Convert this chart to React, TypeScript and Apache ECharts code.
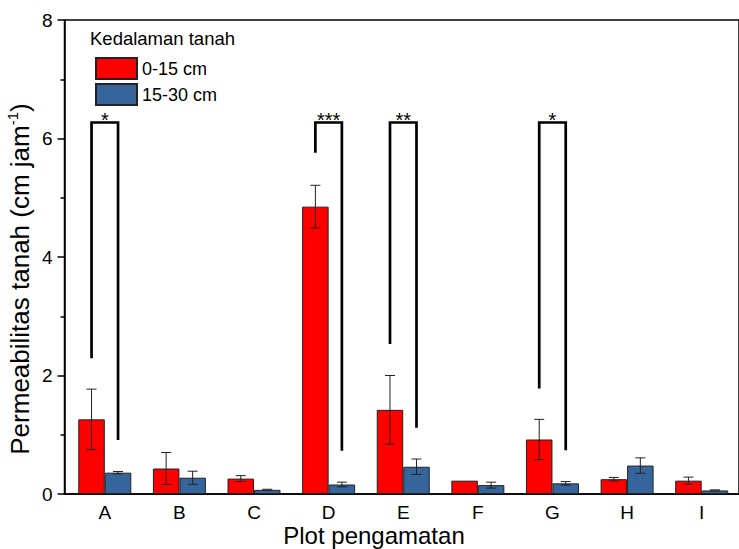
import React, { useEffect, useRef } from "react";
import * as echarts from "echarts";

const categories = ["A", "B", "C", "D", "E", "F", "G", "H", "I"];
const seriesNames = ["0-15 cm", "15-30 cm"];
const depth0_15 = [1.26, 0.43, 0.26, 4.85, 1.42, 0.225, 0.92, 0.25, 0.225];
const err0_15 = [0.51, 0.27, 0.05, 0.36, 0.58, 0, 0.34, 0.03, 0.06];
const depth15_30 = [0.36, 0.275, 0.07, 0.16, 0.46, 0.15, 0.18, 0.48, 0.06];
const err15_30 = [0.02, 0.11, 0.01, 0.04, 0.13, 0.05, 0.03, 0.13, 0.01];
const yTicks = [0, 2, 4, 6, 8];

const sigCategories = ["A", "D", "E", "G"];
const sigLabels = ["*", "***", "**", "*"];
const sigLeftBottom = [2.29, 5.76, 2.53, 1.78];
const sigRightBottom = [0.91, 0.73, 1.12, 0.74];
const sigTop = [6.27, 6.27, 6.27, 6.27];

const FONT = "Liberation Sans, Arial, sans-serif";
const RED = "#ff0000";
const BLUE = "#36659c";
const HALF = 13.25;

export default function App() {
  const ref = useRef<HTMLDivElement>(null);
  useEffect(() => {
    if (!ref.current) return;
    document.body.style.margin = "0";
    const chart = echarts.init(ref.current, null, { renderer: "svg" });

    const errSeries = (means: number[], errs: number[], offset: number) => ({
      type: "custom",
      silent: true,
      z: 5,
      data: means.map((m, i) => [i + 1, m, errs[i]]),
      renderItem: (params: any, api: any) => {
        const x = api.value(0);
        const m = api.value(1);
        const e = api.value(2);
        if (!e) return null;
        const top = api.coord([x, m + e]);
        const bot = api.coord([x, m - e]);
        const px = top[0] + offset;
        const st = { stroke: "#222", lineWidth: 1 };
        return {
          type: "group",
          children: [
            { type: "line", shape: { x1: px, y1: top[1], x2: px, y2: bot[1] }, style: st },
            { type: "line", shape: { x1: px - 5, y1: top[1], x2: px + 5, y2: top[1] }, style: st },
            { type: "line", shape: { x1: px - 5, y1: bot[1], x2: px + 5, y2: bot[1] }, style: st },
          ],
        };
      },
    });

    const option: any = {
      animation: false,
      grid: {
        left: 64.5,
        right: -3.5,
        top: 20,
        bottom: 55,
        show: true,
        borderColor: "#000",
        borderWidth: 1.5,
      },
      legend: {
        data: seriesNames,
        orient: "vertical",
        left: 90,
        top: 52,
        itemWidth: 41,
        itemHeight: 21,
        itemGap: 3,
        icon: "rect",
        textStyle: { fontSize: 18, color: "#000", fontFamily: FONT },
      },
      xAxis: {
        type: "value",
        min: 0.46,
        max: 9.5,
        splitLine: { show: false },
        axisTick: { show: false },
        axisLine: { lineStyle: { color: "#000", width: 1.5 } },
        axisLabel: {
          customValues: categories.map((_, i) => i + 1),
          formatter: (v: number) => categories[Math.round(v) - 1] || "",
          fontSize: 19,
          color: "#000",
          fontFamily: FONT,
          margin: 9,
        },
      },
      yAxis: {
        type: "value",
        min: yTicks[0],
        max: yTicks[yTicks.length - 1],
        interval: 2,
        splitLine: { show: false },
        axisLine: { show: true, lineStyle: { color: "#000", width: 1.5 } },
        axisTick: { show: true, length: 7, lineStyle: { color: "#000", width: 1.5 } },
        minorTick: { show: true, splitNumber: 2, length: 4, lineStyle: { color: "#000", width: 1.5 } },
        axisLabel: { fontSize: 19, color: "#000", fontFamily: FONT, margin: 12 },
      },
      series: [
        {
          name: seriesNames[0],
          type: "bar",
          barWidth: 26.5,
          barGap: "0%",
          itemStyle: { color: RED, borderColor: "#222", borderWidth: 1 },
          data: depth0_15.map((v, i) => [i + 1, v]),
        },
        {
          name: seriesNames[1],
          type: "bar",
          barWidth: 26.5,
          barGap: "0%",
          itemStyle: { color: BLUE, borderColor: "#222", borderWidth: 1 },
          data: depth15_30.map((v, i) => [i + 1, v]),
        },
        errSeries(depth0_15, err0_15, -HALF),
        errSeries(depth15_30, err15_30, HALF),
        {
          type: "custom",
          silent: true,
          z: 6,
          data: sigCategories.map((c, i) => [
            categories.indexOf(c) + 1,
            sigLeftBottom[i],
            sigRightBottom[i],
            sigTop[i],
          ]),
          renderItem: (params: any, api: any) => {
            const x = api.value(0);
            const lb = api.coord([x, api.value(1)]);
            const rb = api.coord([x, api.value(2)]);
            const tp = api.coord([x, api.value(3)]);
            const xl = tp[0] - HALF;
            const xr = tp[0] + HALF;
            return {
              type: "group",
              children: [
                {
                  type: "polyline",
                  shape: { points: [[xl, lb[1]], [xl, tp[1]], [xr, tp[1]], [xr, rb[1]]] },
                  style: { stroke: "#000", lineWidth: 2.7, fill: null },
                },
                {
                  type: "text",
                  x: tp[0],
                  y: tp[1] - 3,
                  style: {
                    text: sigLabels[params.dataIndex],
                    fontSize: 20,
                    fontFamily: FONT,
                    fill: "#000",
                    align: "center",
                    verticalAlign: "middle",
                  },
                },
              ],
            };
          },
        },
      ],
      graphic: [
        {
          type: "text",
          left: 90,
          top: 29,
          style: { text: "Kedalaman tanah", fontSize: 18.5, fontFamily: FONT, fill: "#000" },
        },
        {
          type: "text",
          x: 374,
          y: 535,
          style: {
            text: "Plot pengamatan",
            fontSize: 24,
            fontFamily: FONT,
            fill: "#000",
            align: "center",
            verticalAlign: "middle",
          },
        },
        {
          type: "text",
          x: 20,
          y: 279,
          rotation: Math.PI / 2,
          style: {
            text: "{a|Permeabilitas tanah (cm jam}{s|-1}{a|)}",
            align: "center",
            verticalAlign: "middle",
            rich: {
              a: { fontSize: 26, fontFamily: FONT, fill: "#000", lineHeight: 30 },
              s: { fontSize: 15, fontFamily: FONT, fill: "#000", lineHeight: 30, verticalAlign: "top" },
            },
          },
        },
      ],
    };
    chart.setOption(option);
    return () => chart.dispose();
  }, []);
  return <div ref={ref} style={{ width: 739, height: 549 }} />;
}
